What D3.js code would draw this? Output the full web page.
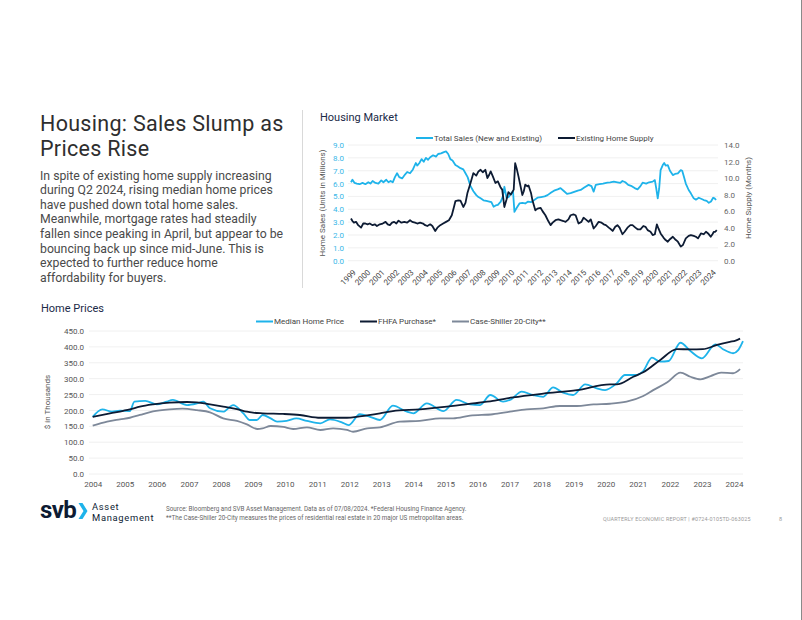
<!DOCTYPE html>
<html><head><meta charset="utf-8">
<script src="https://cdn.jsdelivr.net/npm/d3@7"></script>
<style>body{margin:0;background:#fff}svg{display:block}text{font-family:Roboto,"Liberation Sans",sans-serif}</style>
</head><body>
<svg id="c" width="802" height="620"></svg>
<script>
// ---------- Data: Housing Market (top chart) ----------
const marketYears = d3.range(1999, 2025);
const salesT = [1999.0,1999.1,1999.25,1999.4,1999.6,1999.8,2000.0,2000.2,2000.35,2000.5,2000.7,2000.9,2001.1,2001.25,2001.45,2001.6,2001.75,2001.9,2002.05,2002.2,2002.35,2002.55,2002.75,2002.9,2003.1,2003.3,2003.5,2003.6,2003.75,2003.9,2004.05,2004.2,2004.35,2004.5,2004.7,2004.9,2005.05,2005.25,2005.45,2005.6,2005.75,2005.9,2006.05,2006.25,2006.4,2006.6,2006.8,2006.95,2007.1,2007.3,2007.5,2007.7,2007.85,2008.0,2008.2,2008.4,2008.6,2008.75,2008.9,2009.05,2009.2,2009.4,2009.55,2009.65,2009.8,2009.95,2010.1,2010.25,2010.35,2010.5,2010.7,2010.9,2011.1,2011.3,2011.5,2011.7,2011.95,2012.2,2012.45,2012.65,2012.9,2013.1,2013.35,2013.55,2013.8,2014.0,2014.25,2014.5,2014.75,2014.95,2015.2,2015.5,2015.7,2015.85,2016.0,2016.25,2016.5,2016.8,2017.0,2017.25,2017.5,2017.7,2017.85,2018.05,2018.25,2018.5,2018.7,2018.9,2019.1,2019.25,2019.5,2019.7,2019.95,2020.1,2020.2,2020.3,2020.4,2020.5,2020.65,2020.75,2020.85,2021.0,2021.15,2021.35,2021.5,2021.7,2021.9,2022.0,2022.1,2022.25,2022.45,2022.6,2022.8,2022.95,2023.15,2023.35,2023.5,2023.7,2023.85,2024.0,2024.15,2024.25,2024.35];
const salesV = [6.1,6.3,6.05,6.0,5.95,6.05,5.95,6.1,6.0,6.2,6.05,6.0,6.25,6.1,6.3,6.1,6.2,6.1,6.5,6.8,6.5,6.4,6.7,6.9,6.8,7.1,7.6,7.4,7.6,7.9,7.7,8.0,7.85,8.05,8.2,8.1,8.3,8.35,8.45,8.5,8.3,7.9,7.8,7.45,7.35,7.2,7.1,6.8,6.5,5.8,5.4,5.1,4.95,4.85,4.7,4.65,4.6,4.55,4.2,4.3,4.35,4.6,5.0,5.75,4.9,4.95,5.2,5.4,3.8,4.1,4.45,4.5,4.45,4.6,4.55,4.7,4.9,4.95,5.0,5.1,5.3,5.45,5.55,5.65,5.4,5.2,5.25,5.35,5.45,5.5,5.7,5.9,5.8,5.37,5.9,5.95,6.0,6.07,6.1,6.15,6.1,6.05,6.2,6.1,5.9,5.8,5.65,5.55,5.8,6.07,6.0,6.1,6.15,6.27,5.6,4.85,5.6,7.05,7.44,7.6,7.4,7.44,7.0,6.66,6.75,6.8,7.05,7.0,6.6,6.0,5.5,5.24,4.85,4.75,4.9,4.8,4.72,4.65,4.5,4.6,4.9,4.85,4.72];
const supplyT = [1999.0,1999.1,1999.2,1999.35,1999.5,1999.7,1999.85,2000.0,2000.15,2000.3,2000.5,2000.65,2000.8,2001.0,2001.2,2001.4,2001.55,2001.7,2001.85,2002.0,2002.15,2002.3,2002.5,2002.7,2002.9,2003.1,2003.25,2003.45,2003.6,2003.8,2004.0,2004.15,2004.3,2004.5,2004.65,2004.85,2005.0,2005.2,2005.4,2005.6,2005.8,2006.0,2006.15,2006.25,2006.45,2006.6,2006.8,2006.95,2007.08,2007.3,2007.5,2007.7,2007.85,2008.0,2008.15,2008.33,2008.47,2008.6,2008.7,2008.85,2009.03,2009.2,2009.38,2009.5,2009.65,2009.8,2009.93,2010.1,2010.2,2010.3,2010.4,2010.5,2010.63,2010.8,2010.9,2011.0,2011.1,2011.25,2011.33,2011.5,2011.6,2011.8,2011.95,2012.16,2012.3,2012.5,2012.7,2012.86,2013.0,2013.2,2013.4,2013.55,2013.75,2013.9,2014.1,2014.25,2014.45,2014.6,2014.8,2015.0,2015.15,2015.3,2015.5,2015.65,2015.85,2016.0,2016.2,2016.4,2016.55,2016.7,2016.9,2017.05,2017.17,2017.35,2017.5,2017.65,2017.85,2018.0,2018.2,2018.4,2018.55,2018.75,2018.9,2019.1,2019.3,2019.45,2019.6,2019.8,2019.95,2020.1,2020.24,2020.35,2020.5,2020.7,2020.85,2021.0,2021.15,2021.35,2021.5,2021.7,2021.9,2022.05,2022.25,2022.45,2022.6,2022.8,2022.95,2023.1,2023.3,2023.5,2023.65,2023.8,2023.98,2024.1,2024.2,2024.3,2024.4];
const supplyV = [5.1,4.8,4.6,4.7,4.3,4.0,4.5,4.5,4.4,4.5,4.3,4.4,4.2,4.4,4.5,4.7,4.4,4.3,4.6,4.7,4.5,4.85,4.6,4.7,4.6,4.9,4.7,4.6,4.5,4.6,4.5,4.3,4.2,4.4,4.2,3.6,4.0,4.3,4.5,4.7,4.9,5.5,6.5,7.2,7.3,7.26,6.5,7.0,8.15,9.4,10.6,10.3,10.8,11.0,10.7,11.0,10.0,10.4,10.8,10.2,9.4,9.6,8.9,8.6,6.5,7.4,8.3,8.0,8.3,8.6,11.8,11.2,10.2,8.8,7.95,8.4,9.2,9.0,9.1,8.2,7.3,6.1,6.3,6.4,6.0,5.5,4.8,4.3,4.6,4.9,5.0,4.9,4.8,4.7,5.0,5.5,5.6,5.5,4.5,4.7,5.2,5.0,4.7,5.0,3.9,4.2,4.7,4.6,4.4,4.3,4.0,3.8,3.6,4.1,4.3,4.0,3.2,3.5,4.0,4.3,4.3,4.0,3.8,3.8,4.2,4.1,3.7,3.5,3.1,3.2,4.4,3.9,3.3,2.8,2.5,2.3,2.6,2.9,2.6,2.3,1.7,1.9,2.7,3.0,3.1,3.0,2.9,2.7,3.3,3.2,3.5,3.3,2.9,3.2,3.5,3.5,3.7];
const salesTicks = d3.range(0, 10, 1);
const supplyTicks = d3.range(0, 16, 2);

// ---------- Data: Home Prices (bottom chart) ----------
const priceYears = d3.range(2004, 2025);
const priceTicks = d3.range(0, 500, 50);
const medianT = [2004.0,2004.3,2004.6,2004.85,2005.16,2005.3,2005.64,2006.0,2006.3,2006.5,2006.94,2007.25,2007.45,2007.66,2008.07,2008.38,2008.7,2008.9,2009.12,2009.3,2009.55,2009.75,2010.05,2010.35,2010.68,2011.1,2011.4,2011.77,2011.98,2012.33,2012.65,2012.96,2013.36,2013.8,2014.0,2014.42,2014.94,2015.35,2015.77,2016.08,2016.4,2016.8,2017.05,2017.38,2017.73,2018.05,2018.36,2018.67,2018.98,2019.36,2019.72,2019.98,2020.34,2020.6,2020.92,2021.17,2021.44,2021.7,2021.96,2022.33,2022.64,2023.0,2023.42,2023.67,2023.97,2024.13,2024.28];
const medianV = [180,203.5,196,199,198,227.6,230,219,227.6,233,217,222,227.6,206.7,196,217,191,170,170,185.7,175,165,167,175,167,159.5,172,162.6,154,188,180,170,215,196,191,222,198,233,219,217,248.6,227.6,235,259,248.6,243,272.7,256,248.6,282,269.6,264,285,311.5,311.5,324,366,353.5,355.6,413,387,364,408,392,380,390,418.5];
const fhfaT = [2004.0,2004.54,2004.95,2005.16,2005.47,2005.88,2006.4,2006.94,2007.25,2007.66,2008.07,2008.5,2008.81,2009.0,2009.3,2009.94,2010.46,2011.1,2011.93,2012.33,2012.96,2013.36,2014.2,2015.05,2015.86,2016.48,2017.11,2018.05,2019.1,2020.13,2020.34,2020.86,2021.17,2021.7,2022.22,2022.64,2023.03,2023.47,2023.87,2024.05,2024.19];
const fhfaV = [180,191,199,203.5,212,219,224.5,226.6,225.5,219,212,204.5,196,193,191,189,185.7,177,177,181.5,191,198,203.5,212,222,230,241,253,264,282,282,306,320,359,393,392,393,406,416,420,426];
const csT = [2004.0,2004.45,2004.85,2005.16,2005.47,2005.88,2006.4,2006.8,2007.25,2007.66,2008.07,2008.5,2008.81,2009.14,2009.3,2009.55,2009.94,2010.25,2010.68,2011.1,2011.5,2011.93,2012.12,2012.56,2012.96,2013.58,2014.2,2014.83,2015.24,2015.77,2016.48,2017.01,2017.53,2018.05,2018.57,2019.1,2019.62,2020.13,2020.65,2021.17,2021.48,2021.92,2022.33,2022.64,2022.96,2023.27,2023.6,2023.97,2024.19];
const csV = [152,165,172,177,185.7,197,203.5,205.6,201,194,175,167,156,141.6,143.7,151,148,141.6,147,138.5,143.7,138.5,133,143.7,147,165,167,175,175,183.6,188,196,203.5,206.7,214,214,219,221,227.6,245.5,264,288.5,319,306,298,308,319,317,330];

// ---------- Text ----------
const titleLines = ["Housing: Sales Slump as", "Prices Rise"];
const bodyLines = ["In spite of existing home supply increasing","during Q2 2024, rising median home prices","have pushed down total home sales.","Meanwhile, mortgage rates had steadily","fallen since peaking in April, but appear to be","bouncing back up since mid-June. This is","expected to further reduce home","affordability for buyers."];
const logoLines = ["Asset", "Management"];
const footLines = ["Source: Bloomberg and SVB Asset Management. Data as of 07/08/2024. *Federal Housing Finance Agency.","**The Case-Shiller 20-City measures the prices of residential real estate in 20 major US metropolitan areas."];

const C = {blue:"#1eb3ea", navy:"#0d1b33", gray:"#7d8899", grid:"#ececec", text:"#555"};
const svg = d3.select("#c");
svg.append("rect").attr("width",802).attr("height",620).attr("fill","#fff");

// multi-line text as one element with tspans
function block(g, lines, x, y, lh, size, fill){
  const t = g.append("text").attr("x",x).attr("y",y).attr("font-size",size).attr("fill",fill);
  t.selectAll("tspan").data(lines).join("tspan").attr("x",x).attr("y",(d,i)=>y+i*lh).text(d=>d);
  return t;
}
block(svg, titleLines, 40, 130.5, 25.3, 21.5, "#2e2e2e").attr("letter-spacing",0.3);
block(svg, bodyLines, 40, 179.5, 14.6, 12.25, "#4a4a4a");
svg.append("line").attr("x1",302.5).attr("x2",302.5).attr("y1",110).attr("y2",288).attr("stroke","#d9d9d9");

// ---------- Top chart ----------
const x1 = d3.scaleLinear().domain([1999, 2024]).range([351, 711]);
const yL = d3.scaleLinear().domain([0, 9]).range([260.7, 145]);
const yR = d3.scaleLinear().domain([0, 14]).range([260.7, 145]);
const topG = svg.append("g");
topG.append("text").attr("x",320).attr("y",121).attr("font-size",11).attr("fill","#1b2a47").text("Housing Market");
topG.append("g").selectAll("line").data(salesTicks).join("line")
  .attr("x1",348).attr("x2",718).attr("y1",d=>yL(d)).attr("y2",d=>yL(d)).attr("stroke",C.grid).attr("stroke-width",0.8);
const axL = topG.append("g").attr("transform","translate(344,0)")
  .call(d3.axisLeft(yL).tickValues(salesTicks).tickFormat(d3.format(".1f")).tickSize(0).tickPadding(0));
axL.select(".domain").remove();
axL.selectAll("text").attr("font-size",8).attr("fill","#3ab7e8").attr("font-family","Roboto");
const axR = topG.append("g").attr("transform","translate(724,0)")
  .call(d3.axisRight(yR).tickValues(supplyTicks).tickFormat(d3.format(".1f")).tickSize(0).tickPadding(0));
axR.select(".domain").remove();
axR.selectAll("text").attr("font-size",8).attr("fill","#666").attr("font-family","Roboto");
const axX = topG.append("g").attr("transform","translate(0,262)")
  .call(d3.axisBottom(x1).tickValues(marketYears).tickFormat(d3.format("d")).tickSize(0));
axX.select(".domain").remove();
axX.selectAll("text").attr("font-size",8).attr("fill","#444").attr("font-family","Roboto")
  .attr("x",0).attr("y",0).attr("dy","0.35em").attr("transform","translate(3,9) rotate(-45)").style("text-anchor","end");
topG.append("text").attr("transform","translate(325,203) rotate(-90)").attr("text-anchor","middle")
  .attr("font-size",8).attr("fill",C.text).text("Home Sales (Units in Millions)");
topG.append("text").attr("transform","translate(751,198) rotate(-90)").attr("text-anchor","middle")
  .attr("font-size",8).attr("fill",C.text).text("Home Supply (Months)");
const lineS = d3.line().x((d,i)=>x1(salesT[i])).y(d=>yL(d));
const lineH = d3.line().x((d,i)=>x1(supplyT[i])).y(d=>yR(d));
topG.append("path").attr("d",lineS(salesV)).attr("fill","none").attr("stroke",C.blue).attr("stroke-width",1.8).attr("stroke-linejoin","round");
topG.append("path").attr("d",lineH(supplyV)).attr("fill","none").attr("stroke",C.navy).attr("stroke-width",1.8).attr("stroke-linejoin","round");
// legend
const lg1 = [{label:"Total Sales (New and Existing)",c:C.blue,x:416},{label:"Existing Home Supply",c:C.navy,x:558}];
const lg1g = topG.append("g").selectAll("g").data(lg1).join("g").attr("transform",d=>`translate(${d.x},138)`);
lg1g.append("line").attr("x1",0).attr("x2",17).attr("stroke",d=>d.c).attr("stroke-width",2);
lg1g.append("text").attr("x",18).attr("dy","0.35em").attr("font-size",8).attr("fill","#444").text(d=>d.label);

// ---------- Bottom chart ----------
const x2 = d3.scaleLinear().domain([2004, 2024]).range([92.7, 734]);
const y2 = d3.scaleLinear().domain([0, 450]).range([474, 331]);
const bot = svg.append("g");
bot.append("text").attr("x",41).attr("y",312).attr("font-size",11).attr("fill","#1b2a47").text("Home Prices");
bot.append("g").selectAll("line").data(priceTicks).join("line")
  .attr("x1",89).attr("x2",743).attr("y1",d=>y2(d)).attr("y2",d=>y2(d)).attr("stroke",C.grid).attr("stroke-width",0.8);
const ay2 = bot.append("g").attr("transform","translate(84,0)")
  .call(d3.axisLeft(y2).tickValues(priceTicks).tickFormat(d3.format(".1f")).tickSize(0).tickPadding(0));
ay2.select(".domain").remove();
ay2.selectAll("text").attr("font-size",8).attr("fill","#555").attr("font-family","Roboto");
const ax2 = bot.append("g").attr("transform","translate(0,481)")
  .call(d3.axisBottom(x2).tickValues(priceYears).tickFormat(d3.format("d")).tickSize(0).tickPadding(0));
ax2.select(".domain").remove();
ax2.selectAll("text").attr("font-size",8).attr("fill","#555").attr("font-family","Roboto");
bot.append("text").attr("transform","translate(50,402) rotate(-90)").attr("text-anchor","middle")
  .attr("font-size",8).attr("fill",C.text).text("$ in Thousands");
const mk = (T)=>d3.line().curve(d3.curveMonotoneX).x((d,i)=>x2(T[i])).y(d=>y2(d));
bot.append("path").attr("d",mk(csT)(csV)).attr("fill","none").attr("stroke",C.gray).attr("stroke-width",1.8);
bot.append("path").attr("d",mk(medianT)(medianV)).attr("fill","none").attr("stroke",C.blue).attr("stroke-width",1.8);
bot.append("path").attr("d",mk(fhfaT)(fhfaV)).attr("fill","none").attr("stroke",C.navy).attr("stroke-width",1.8);
const lg2 = [{label:"Median Home Price",c:C.blue,x:256},{label:"FHFA Purchase*",c:C.navy,x:360},{label:"Case-Shiller 20-City**",c:C.gray,x:452}];
const lg2g = bot.append("g").selectAll("g").data(lg2).join("g").attr("transform",d=>`translate(${d.x},321.5)`);
lg2g.append("line").attr("x1",0).attr("x2",17).attr("stroke",d=>d.c).attr("stroke-width",2);
lg2g.append("text").attr("x",18).attr("dy","0.35em").attr("font-size",8).attr("fill","#444").text(d=>d.label);

// ---------- Footer ----------
const ft = svg.append("g");
ft.append("text").attr("x",40).attr("y",518).attr("font-size",24).attr("font-weight",700).attr("fill",C.navy).attr("letter-spacing",-0.6).text("svb");
ft.append("path").attr("d","M78.5,503 L82.5,503 L87.5,511 L82.5,519 L78.5,519 L83.5,511 Z").attr("fill",C.blue);
block(ft, logoLines, 92, 510, 11.1, 9.4, C.navy).attr("letter-spacing",0.7);
block(ft, footLines, 166, 511, 9, 6.3, "#666");
ft.append("text").attr("x",603).attr("y",520.5).attr("font-size",5.4).attr("fill","#9a9a9a").attr("letter-spacing",0.2).text("QUARTERLY ECONOMIC REPORT | #0724-0105TD-063025");
ft.append("text").attr("x",779).attr("y",520.5).attr("font-size",5.5).attr("fill","#9a9a9a").text("8");
svg.append("line").attr("x1",801.5).attr("x2",801.5).attr("y1",0).attr("y2",620).attr("stroke","#8a8a8a");
</script>
</body></html>
